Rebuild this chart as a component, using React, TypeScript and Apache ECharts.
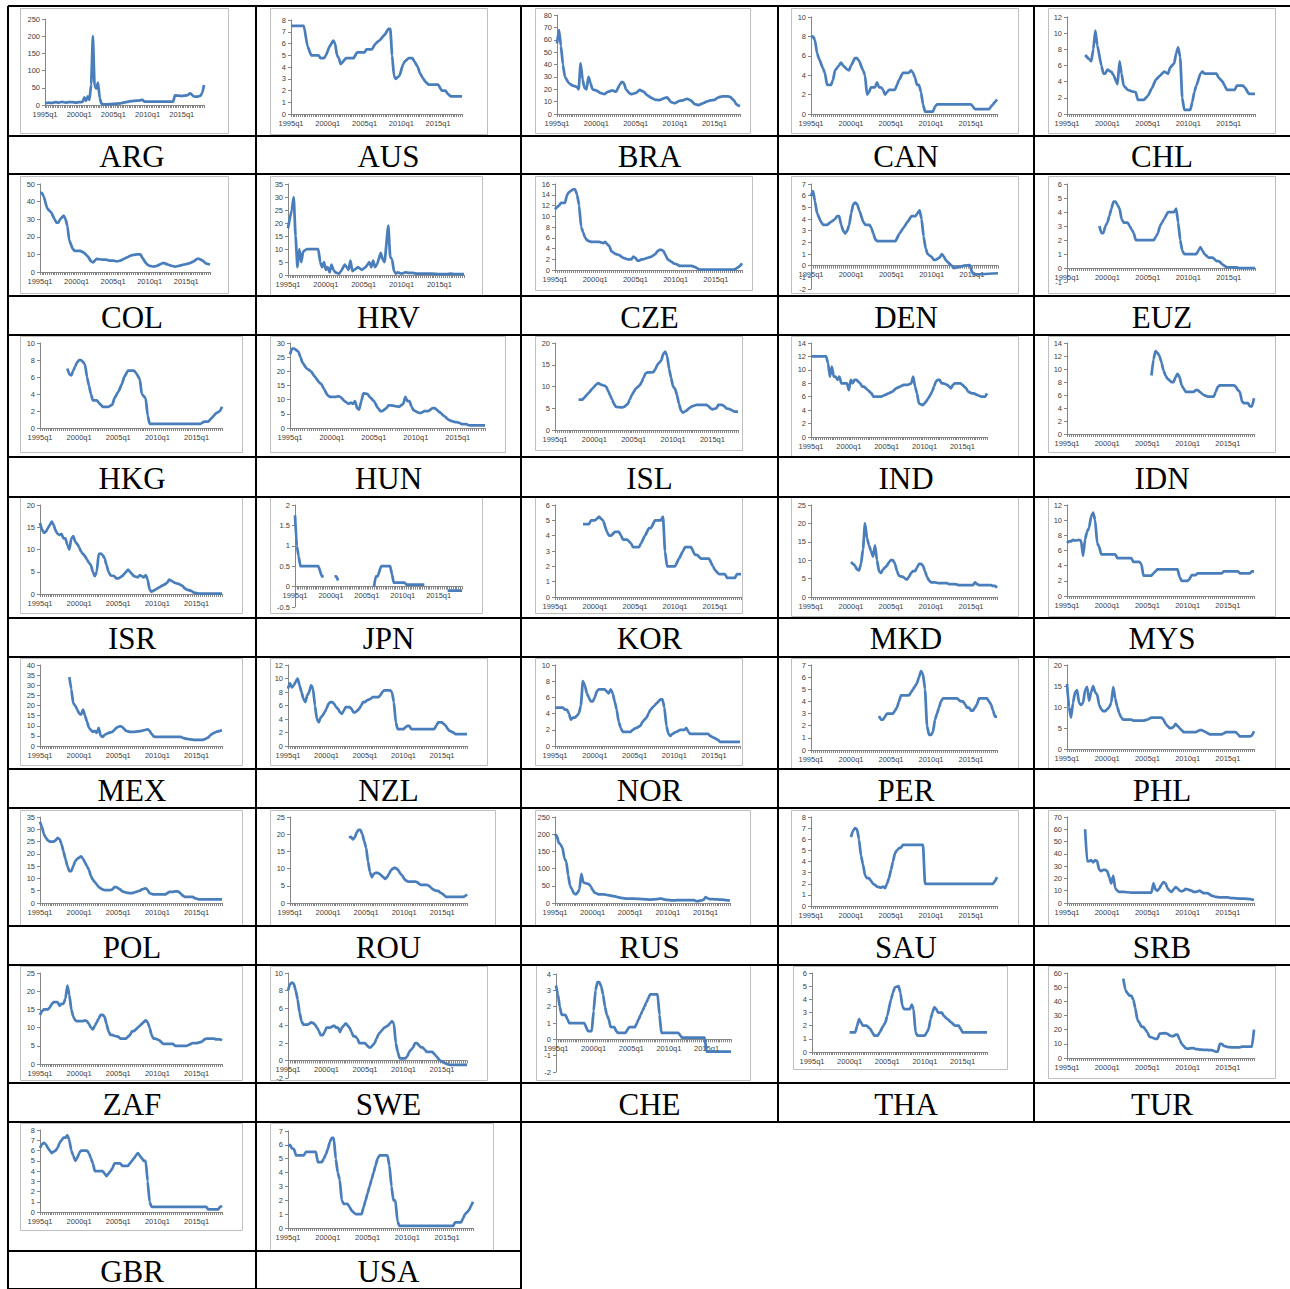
import { useEffect, useRef } from "react";
import * as echarts from "echarts";

// Quarterly category axis: 1995q1 .. 2018q2
const QUARTERS: string[] = [];
for (let y = 1995; y <= 2018; y++) {
  for (let q = 1; q <= 4; q++) {
    if (y === 2018 && q > 2) break;
    QUARTERS.push(`${y}q${q}`);
  }
}

const CODES = [
  "ARG", "AUS", "BRA", "CAN", "CHL",
  "COL", "HRV", "CZE", "DEN", "EUZ",
  "HKG", "HUN", "ISL", "IND", "IDN",
  "ISR", "JPN", "KOR", "MKD", "MYS",
  "MEX", "NZL", "NOR", "PER", "PHL",
  "POL", "ROU", "RUS", "SAU", "SRB",
  "ZAF", "SWE", "CHE", "THA", "TUR",
  "GBR", "USA",
];

// Policy rates, [year + quarter fraction, percent]; null marks a gap in the series
type Pt = [number, number] | null;

const ARG: Pt[] = [[1995,5],[1995.5,7],[1996,6],[1996.5,8],[1997,7],[1997.5,9],[1998,7],[1998.5,8],[1999,8],[1999.5,7],[2000,8],[2000.5,9],[2000.75,22],[2001,12],[2001.25,25],[2001.5,15],[2001.75,60],[2002,200],[2002.25,55],[2002.5,48],[2002.75,65],[2003,20],[2003.25,4],[2003.5,2],[2004,2],[2005,3],[2006,5],[2007,9],[2007.5,11],[2008,12],[2008.75,13],[2009.25,15],[2009.5,10],[2010,10],[2011,10],[2012,10],[2013,10],[2013.75,10],[2014,28],[2015,26],[2015.75,28],[2016.25,34],[2016.75,25],[2017.25,24],[2017.75,27],[2018,35],[2018.25,58]];
const AUS: Pt[] = [[1995,7.5],[1996.75,7.5],[1997.25,5.75],[1997.75,5.0],[1998.75,5.0],[1999,4.75],[1999.5,4.75],[1999.75,5.0],[2000.25,5.75],[2000.75,6.25],[2001,6.0],[2001.25,5.0],[2001.5,4.75],[2001.75,4.25],[2002.5,4.75],[2003.5,4.75],[2004,5.25],[2005,5.25],[2005.25,5.5],[2006,5.5],[2006.5,6.0],[2007,6.25],[2007.75,6.75],[2008.25,7.25],[2008.5,7.25],[2008.75,5.0],[2009,3.25],[2009.25,3.0],[2009.75,3.25],[2010.25,4.25],[2010.5,4.5],[2011,4.75],[2011.5,4.75],[2011.75,4.5],[2012.25,4.0],[2012.5,3.5],[2013,3.0],[2013.25,2.75],[2013.75,2.5],[2015,2.5],[2015.5,2.0],[2016,2.0],[2016.25,1.75],[2016.75,1.5],[2018.25,1.5]];
const BRA: Pt[] = [[1995,57],[1995.25,68],[1995.5,55],[1995.75,40],[1996,30],[1996.5,25],[1997,23],[1997.5,22],[1997.75,20],[1998,41],[1998.25,28],[1998.5,21],[1998.75,20],[1999,30],[1999.25,25],[1999.5,20],[2000,19],[2000.5,17],[2001,16],[2001.5,18],[2002,19],[2002.5,18],[2003,24],[2003.25,26],[2003.5,25],[2003.75,20],[2004.25,16.5],[2004.5,16],[2005,17],[2005.5,19.5],[2006,18],[2006.5,15],[2007,13],[2007.5,11.5],[2008,11.2],[2008.75,13],[2009,13.5],[2009.5,9.5],[2010,8.75],[2010.5,10.5],[2011,11],[2011.5,12.25],[2012,11],[2012.5,8],[2013,7.25],[2013.5,8.5],[2014,10],[2014.5,11],[2015,11.5],[2015.5,13.5],[2016,14.25],[2016.75,14.25],[2017,13.75],[2017.5,11],[2017.75,8],[2018,7],[2018.25,6.5]];
const CAN: Pt[] = [[1995,7.9],[1995.25,8.0],[1995.5,7.6],[1995.75,6.3],[1996,5.7],[1996.5,4.7],[1996.75,4.2],[1997,3.0],[1997.5,3.0],[1997.75,3.5],[1998,4.5],[1998.5,5.0],[1998.75,5.3],[1999,5.0],[1999.5,4.6],[1999.75,4.5],[2000,5.0],[2000.5,5.75],[2000.75,5.75],[2001,5.5],[2001.5,4.5],[2001.75,4.0],[2002,2.0],[2002.25,2.25],[2002.5,2.75],[2003,2.75],[2003.25,3.25],[2003.5,2.75],[2003.75,2.75],[2004,2.5],[2004.25,2.0],[2004.5,2.25],[2004.75,2.5],[2005.5,2.5],[2005.75,3.0],[2006,3.5],[2006.5,4.25],[2007.25,4.25],[2007.5,4.5],[2007.75,4.25],[2008,3.75],[2008.25,3.0],[2008.5,3.0],[2008.75,2.25],[2009,1.0],[2009.25,0.25],[2010.25,0.25],[2010.5,0.75],[2010.75,1.0],[2015,1.0],[2015.25,0.75],[2015.5,0.5],[2017.25,0.5],[2017.5,0.75],[2017.75,1.0],[2018,1.25],[2018.25,1.5]];
const CHL: Pt[] = [[1997.25,7.3],[1997.75,6.8],[1998,6.5],[1998.25,8.0],[1998.5,10.3],[1998.75,8.5],[1999.25,6.0],[1999.5,5.0],[1999.75,5.0],[2000,5.5],[2000.5,5.2],[2000.75,4.8],[2001.25,3.7],[2001.5,6.5],[2001.75,5.0],[2002,3.5],[2002.5,3.0],[2003,2.8],[2003.5,2.7],[2003.75,1.75],[2004.5,1.75],[2005,2.25],[2005.5,3.2],[2006,4.25],[2006.5,4.75],[2007,5.25],[2007.5,5.0],[2007.75,5.75],[2008.25,6.25],[2008.5,7.5],[2008.75,8.25],[2009,7.0],[2009.25,2.0],[2009.5,0.5],[2010.25,0.5],[2010.5,1.5],[2010.75,2.75],[2011,3.5],[2011.5,5.0],[2011.75,5.25],[2012,5.0],[2013.5,5.0],[2013.75,4.5],[2014.25,4.0],[2014.5,3.5],[2014.75,3.0],[2015.75,3.0],[2016,3.5],[2016.75,3.5],[2017,3.25],[2017.5,2.5],[2018.25,2.5]];

const COL: Pt[] = [[1995,45],[1995.25,45],[1995.5,43],[1996,36],[1996.5,34],[1997,30],[1997.25,28],[1997.5,28],[1997.75,30],[1998.25,32],[1998.5,30],[1998.75,26],[1999,18],[1999.5,13],[1999.75,12],[2000.5,12],[2001,11],[2001.5,9],[2002,6],[2002.25,5.5],[2002.75,7.5],[2003.5,7],[2004,7],[2004.5,6.5],[2005,6.5],[2005.5,6],[2006,6.5],[2006.5,7.5],[2007,8.5],[2007.5,9.5],[2008.25,10],[2008.75,10],[2009,8],[2009.5,5],[2009.75,4],[2010,3.5],[2010.5,3],[2011,3.5],[2011.5,4.5],[2011.75,5],[2012,5],[2012.5,4.25],[2013,3.5],[2013.5,3],[2014,3.5],[2014.5,4],[2015,4.5],[2015.5,5],[2016,6],[2016.5,7.5],[2016.75,7.5],[2017.25,6.5],[2017.5,5.5],[2017.75,4.75],[2018.25,4.25]];
const HRV: Pt[] = [[1995,18],[1995.5,25],[1995.75,30],[1996,15],[1996.25,3],[1996.5,10],[1996.75,5],[1997,9],[1997.5,10],[1998,10],[1999,10],[1999.25,5],[1999.5,3],[1999.75,5],[2000,2],[2000.25,3],[2000.5,1],[2000.75,4],[2001,2],[2001.25,1],[2001.75,0.5],[2002,1.5],[2002.5,4],[2002.75,3],[2003,2],[2003.25,5.5],[2003.5,1.5],[2003.75,2],[2004.25,3],[2004.75,2],[2005.25,3],[2005.75,5],[2006,3],[2006.25,5.5],[2006.5,3],[2006.75,4],[2007.25,8.5],[2007.5,6],[2007.75,5],[2008.25,19],[2008.5,7],[2008.75,6],[2009,1.5],[2009.25,0.5],[2009.5,1],[2010,0.5],[2010.5,1],[2011,0.8],[2011.5,0.8],[2012,0.5],[2014,0.5],[2015,0.3],[2016,0.3],[2016.5,0.5],[2017,0.3],[2018.25,0.3]];
const CZE: Pt[] = [[1995,11.3],[1995.5,12],[1995.75,12.5],[1996.25,12.5],[1996.5,14],[1996.75,14.5],[1997.25,15],[1997.5,15],[1997.75,14],[1998,12],[1998.25,8],[1998.5,7],[1998.75,6],[1999,5.5],[1999.5,5.25],[2000.5,5.25],[2001,5],[2001.25,5.25],[2001.5,4.75],[2001.75,4.5],[2002,3.5],[2002.5,3],[2003,2.75],[2003.25,2.5],[2003.5,2.25],[2004,2.0],[2004.5,2.0],[2004.75,2.5],[2005,2.25],[2005.25,1.75],[2005.5,1.75],[2005.75,2],[2006,2.0],[2006.5,2.25],[2007,2.5],[2007.5,3],[2007.75,3.5],[2008,3.75],[2008.25,3.75],[2008.5,3.5],[2008.75,2.75],[2009,2.0],[2009.25,1.75],[2009.5,1.5],[2009.75,1.25],[2010.25,1.0],[2010.5,0.75],[2012,0.75],[2012.5,0.5],[2012.75,0.25],[2013,0.05],[2017.25,0.05],[2017.5,0.25],[2017.75,0.5],[2018,0.75],[2018.25,1.25]];
const DEN: Pt[] = [[1995,6],[1995.25,6.4],[1995.5,5.5],[1995.75,4.5],[1996.25,3.75],[1996.5,3.5],[1997,3.5],[1997.5,3.75],[1998,4],[1998.25,4.25],[1998.5,4.25],[1998.75,3.5],[1999,3],[1999.25,2.75],[1999.5,3],[1999.75,3.5],[2000,4.5],[2000.25,5.25],[2000.5,5.4],[2000.75,5.25],[2001,4.75],[2001.5,3.75],[2001.75,3.5],[2002.25,3.5],[2002.5,3.25],[2002.75,2.75],[2003,2.25],[2003.25,2.1],[2005.5,2.1],[2006,2.75],[2006.5,3.25],[2007,3.75],[2007.5,4.25],[2008,4.25],[2008.25,4.5],[2008.5,4.75],[2008.75,4.0],[2009,2.5],[2009.25,1.5],[2009.5,1.0],[2010,0.75],[2010.25,0.5],[2010.5,0.5],[2011,0.7],[2011.25,1.0],[2011.5,0.8],[2011.75,0.5],[2012,0.3],[2012.5,0.0],[2012.75,-0.2],[2013.5,-0.1],[2014,0.0],[2014.75,0.05],[2015,-0.5],[2015.25,-0.75],[2018.25,-0.65]];
const EUZ: Pt[] = [[1999,3.0],[1999.25,2.5],[1999.5,2.5],[1999.75,3.0],[2000,3.25],[2000.25,3.75],[2000.5,4.25],[2000.75,4.75],[2001,4.75],[2001.25,4.5],[2001.5,4.25],[2001.75,3.5],[2002,3.25],[2002.5,3.25],[2002.75,3.0],[2003,2.75],[2003.25,2.5],[2003.5,2.0],[2005.75,2.0],[2006,2.25],[2006.25,2.5],[2006.5,3.0],[2006.75,3.25],[2007,3.5],[2007.5,4.0],[2008.25,4.0],[2008.5,4.25],[2008.75,3.25],[2009,2.0],[2009.25,1.25],[2009.5,1.0],[2011,1.0],[2011.25,1.25],[2011.5,1.5],[2011.75,1.25],[2012,1.0],[2012.5,0.75],[2013,0.75],[2013.5,0.5],[2013.75,0.5],[2014.25,0.25],[2014.5,0.15],[2014.75,0.05],[2016,0.05],[2016.25,0.0],[2018.25,0.0]];

const HKG: Pt[] = [[1998.5,7.0],[1998.75,6.3],[1999,6.2],[1999.25,6.75],[1999.5,7.25],[1999.75,7.75],[2000,8.0],[2000.25,8.0],[2000.75,7.5],[2001,6.0],[2001.25,5.0],[2001.5,4.0],[2001.75,3.25],[2002.25,3.25],[2002.5,3.0],[2002.75,2.75],[2003,2.5],[2003.75,2.5],[2004.25,2.75],[2004.5,3.5],[2005,4.25],[2005.5,5.25],[2005.75,6.0],[2006.25,6.75],[2007,6.75],[2007.25,6.5],[2007.75,5.75],[2008,4.0],[2008.5,3.5],[2008.75,1.5],[2009,0.5],[2015.5,0.5],[2016,0.75],[2016.5,0.75],[2017,1.25],[2017.25,1.5],[2017.5,1.75],[2018,2.0],[2018.25,2.5]];
const HUN: Pt[] = [[1995,26],[1995.25,28],[1995.5,28],[1996,27],[1996.25,25],[1996.5,23],[1997,21],[1997.5,20],[1998,18],[1998.5,16],[1998.75,15.5],[1999,14],[1999.5,11.5],[1999.75,11],[2000.5,11],[2000.75,11.25],[2001,11],[2001.5,9.5],[2001.75,9],[2002,8.5],[2002.25,9],[2002.5,8.5],[2002.75,9.5],[2003,7],[2003.25,6.5],[2003.5,9.5],[2003.75,12.25],[2004.25,12],[2004.5,11],[2005,9.5],[2005.5,7],[2005.75,6],[2006,6],[2006.5,7],[2006.75,8],[2007,8],[2007.5,7.75],[2008,7.5],[2008.5,8.5],[2008.75,11],[2009,9.5],[2009.25,9.5],[2009.5,7.5],[2009.75,6.25],[2010.25,5.5],[2010.5,5.25],[2010.75,5.5],[2011,6],[2011.5,6],[2012,7],[2012.25,7],[2012.5,6.5],[2012.75,5.75],[2013,5.25],[2013.25,4.5],[2013.5,4],[2013.75,3.25],[2014,2.75],[2014.5,2.25],[2014.75,2.1],[2015,2.0],[2015.25,1.75],[2015.5,1.35],[2016,1.35],[2016.25,1.05],[2016.5,0.9],[2018.25,0.9]];
const ISL: Pt[] = [[1998,7.0],[1998.5,7.0],[1998.75,7.5],[1999,8],[1999.25,8.5],[1999.75,9.5],[2000.25,10.5],[2000.5,10.8],[2000.75,10.5],[2001.25,10.2],[2001.5,10],[2001.75,9],[2002,8],[2002.25,7],[2002.5,6],[2002.75,5.3],[2003.5,5.2],[2003.75,5.3],[2004.25,6.0],[2004.5,7.0],[2004.75,8],[2005,8.75],[2005.25,9.5],[2005.75,10.25],[2006,11],[2006.25,12],[2006.5,13],[2006.75,13.25],[2007.5,13.3],[2007.75,14],[2008,15],[2008.25,15.5],[2008.5,16],[2008.75,17.5],[2009,18],[2009.25,17],[2009.5,14],[2009.75,12],[2010,10],[2010.25,9.5],[2010.5,8],[2010.75,6],[2011,4.5],[2011.25,4.0],[2011.5,4.25],[2011.75,4.5],[2012,5],[2012.5,5.5],[2013,5.75],[2014.25,5.75],[2014.5,5.5],[2014.75,5.0],[2015,4.75],[2015.5,5.0],[2015.75,5.75],[2016.25,5.75],[2016.5,5.5],[2016.75,5.0],[2017.25,4.75],[2017.5,4.5],[2017.75,4.25],[2018.25,4.25]];
const IND: Pt[] = [[1995,12],[1997,12],[1997.25,11],[1997.5,9],[1997.75,10.5],[1998,9],[1998.25,9],[1998.5,8.5],[1998.75,9],[1999,8],[1999.75,8],[2000,7],[2000.25,8.5],[2000.5,8],[2000.75,8.5],[2001,8.5],[2001.5,8],[2001.75,7.5],[2002,7.5],[2002.5,7],[2003,6.5],[2003.25,6],[2004.25,6],[2004.75,6.25],[2005.25,6.5],[2005.75,6.75],[2006.25,7.25],[2006.75,7.5],[2007.25,7.75],[2007.75,7.75],[2008.25,8],[2008.5,9],[2008.75,7.5],[2009,6.5],[2009.25,5],[2009.75,4.75],[2010,5],[2010.5,5.75],[2010.75,6.25],[2011,6.75],[2011.25,7.5],[2011.5,8.25],[2011.75,8.5],[2012,8.5],[2012.25,8],[2012.5,8],[2013,7.75],[2013.25,7.5],[2013.5,7.25],[2013.75,7.75],[2014,8],[2014.75,8],[2015,7.75],[2015.25,7.5],[2015.5,7.25],[2015.75,6.75],[2016.25,6.5],[2016.5,6.5],[2017,6.25],[2017.5,6.0],[2018,6.0],[2018.25,6.5]];
const IDN: Pt[] = [[2005.5,9],[2005.75,11.5],[2006,12.75],[2006.25,12.5],[2006.5,12],[2006.75,11],[2007,9.75],[2007.25,9],[2007.5,8.5],[2007.75,8.25],[2008,8],[2008.25,8],[2008.5,8.75],[2008.75,9.25],[2009,8.75],[2009.25,7.5],[2009.5,7],[2009.75,6.5],[2010.75,6.5],[2011,6.75],[2011.25,6.75],[2011.5,6.5],[2012,6],[2012.5,5.75],[2013.25,5.75],[2013.5,6.5],[2013.75,7.25],[2014,7.5],[2015.75,7.5],[2016,7.25],[2016.25,6.75],[2016.5,6.5],[2016.75,5.0],[2017,4.75],[2017.5,4.75],[2017.75,4.25],[2018,4.25],[2018.25,5.5]];

const ISR: Pt[] = [[1995,16],[1995.25,14.5],[1995.5,13.75],[1995.75,14],[1996,14.75],[1996.25,15.5],[1996.5,16.25],[1996.75,15.5],[1997,14.25],[1997.25,13.5],[1997.5,13.25],[1997.75,13.5],[1998,12.5],[1998.25,12.5],[1998.5,11],[1998.75,10],[1999,12.5],[1999.25,13],[1999.5,11.75],[1999.75,11.25],[2000,10.5],[2000.25,9.5],[2000.5,9],[2000.75,8.5],[2001,7.75],[2001.25,7],[2001.5,6.5],[2001.75,5],[2002,4],[2002.25,5],[2002.5,9],[2002.75,9.1],[2003,8.75],[2003.25,8],[2003.5,6.5],[2003.75,5],[2004,4.2],[2004.5,4.0],[2004.75,3.5],[2005,3.5],[2005.5,4.0],[2005.75,4.5],[2006,5.0],[2006.25,5.5],[2006.5,5.0],[2006.75,4.5],[2007,4.0],[2007.5,3.75],[2007.75,4.25],[2008,4.0],[2008.25,3.75],[2008.5,4.25],[2008.75,3.25],[2009,1.0],[2009.25,0.5],[2009.5,0.75],[2009.75,1.0],[2010.25,1.5],[2010.75,2.0],[2011.25,2.5],[2011.5,3.25],[2011.75,3.0],[2012,2.75],[2012.25,2.5],[2012.75,2.25],[2013,2.0],[2013.25,1.75],[2013.5,1.25],[2013.75,1.0],[2014.25,0.75],[2014.5,0.5],[2014.75,0.25],[2015.25,0.1],[2018.25,0.1]];
const JPN: Pt[] = [[1995,1.75],[1995.25,1.0],[1995.5,0.75],[1995.75,0.5],[1998.25,0.5],[1998.75,0.25],[1999,0.25],null,[2000.5,0.25],[2000.75,0.25],[2001,0.15],null,[2006,0.0],[2006.25,0.25],[2006.5,0.25],[2007,0.5],[2008.25,0.5],[2008.5,0.3],[2008.75,0.1],[2010.25,0.1],[2010.5,0.05],[2013,0.05],null,[2016.25,-0.1],[2018.25,-0.1]];
const KOR: Pt[] = [[1998.5,4.75],[1999,4.75],[1999.25,4.75],[1999.5,5.0],[2000,5.0],[2000.25,5.1],[2000.5,5.25],[2000.75,5.1],[2001,5.0],[2001.5,4.25],[2001.75,4.0],[2002,4.0],[2002.5,4.25],[2003,4.25],[2003.25,4.0],[2003.5,3.75],[2004,3.75],[2004.5,3.5],[2004.75,3.25],[2005.5,3.25],[2005.75,3.5],[2006.25,4.0],[2006.75,4.5],[2007,4.5],[2007.5,5.0],[2008.25,5.0],[2008.5,5.25],[2008.75,3.0],[2009,2.0],[2010,2.0],[2010.5,2.5],[2011,3.0],[2011.25,3.25],[2012,3.25],[2012.5,2.75],[2012.75,2.75],[2013.25,2.5],[2014.25,2.5],[2014.75,2.0],[2015,1.75],[2015.5,1.5],[2016.25,1.5],[2016.5,1.25],[2017.5,1.25],[2017.75,1.5],[2018.25,1.5]];
const MKD: Pt[] = [[2000,9.5],[2000.25,9],[2000.5,8.5],[2000.75,7.5],[2001,7.2],[2001.25,9],[2001.5,13],[2001.75,20],[2002,16],[2002.25,14],[2002.5,12.5],[2002.75,11],[2003,14],[2003.25,10],[2003.5,7],[2003.75,6.5],[2004,7.5],[2004.25,8],[2004.5,8.5],[2004.75,9.5],[2005,10],[2005.25,10],[2005.5,9],[2005.75,7],[2006,5.75],[2006.5,5.5],[2006.75,5],[2007,4.75],[2007.25,5.5],[2007.5,6.5],[2007.75,7],[2008,7],[2008.25,8],[2008.5,9],[2008.75,9],[2009,8.5],[2009.25,7],[2009.5,5.5],[2009.75,4.5],[2010,4.0],[2010.5,4.0],[2011,3.75],[2012,3.75],[2012.25,3.5],[2013,3.5],[2013.5,3.25],[2015.25,3.25],[2015.5,4.0],[2015.75,3.5],[2016,3.25],[2017.5,3.25],[2017.75,3.0],[2018,3.0],[2018.25,2.5]];
const MYS: Pt[] = [[1995,7.0],[1995.25,7.2],[1995.5,7.2],[1995.75,7.4],[1996,7.3],[1996.5,7.4],[1996.75,7.3],[1997,5.3],[1997.25,7.5],[1997.5,8.5],[1997.75,9.0],[1998,10.5],[1998.25,11.0],[1998.5,10.0],[1998.75,7.0],[1999,6.5],[1999.25,5.5],[2001,5.5],[2001.25,5.0],[2003,5.0],[2003.25,4.5],[2004,4.5],[2004.25,4.2],[2004.5,2.7],[2005.5,2.7],[2005.75,3.0],[2006,3.25],[2006.25,3.5],[2008.75,3.5],[2009,2.5],[2009.25,2.0],[2010,2.0],[2010.25,2.25],[2010.5,2.75],[2011,2.75],[2011.25,3.0],[2014.25,3.0],[2014.5,3.25],[2016.25,3.25],[2016.5,3.0],[2017.75,3.0],[2018,3.25],[2018.25,3.25]];

const MEX: Pt[] = [[1998.75,34],[1999,28],[1999.25,21],[1999.5,20],[1999.75,18],[2000,16],[2000.25,15.5],[2000.5,18],[2000.75,15],[2001,12],[2001.25,9],[2001.5,8],[2001.75,7],[2002,7.5],[2002.25,6.5],[2002.5,9],[2002.75,5],[2003,4.5],[2003.25,5.5],[2003.5,6],[2003.75,6.5],[2004.25,7],[2004.5,8],[2004.75,9],[2005,9.5],[2005.25,9.75],[2005.5,9.5],[2005.75,8.5],[2006,7.5],[2006.5,7.0],[2007,7.0],[2007.5,7.25],[2008,7.5],[2008.5,8.0],[2008.75,8.25],[2009,7.5],[2009.25,6.0],[2009.5,4.75],[2009.75,4.5],[2013,4.5],[2013.25,4.0],[2013.75,3.5],[2014.25,3.25],[2014.75,3.0],[2015.75,3.0],[2016,3.25],[2016.25,3.75],[2016.5,4.25],[2016.75,5.25],[2017,6.0],[2017.25,6.5],[2017.5,7.0],[2017.75,7.25],[2018,7.5],[2018.25,7.75]];
const NZL: Pt[] = [[1995,8.5],[1995.25,9.3],[1995.5,8.7],[1995.75,9.0],[1996,9.5],[1996.25,10.0],[1996.5,9.0],[1996.75,8.0],[1997,7.0],[1997.25,6.5],[1997.5,7.5],[1997.75,8.0],[1998,9.0],[1998.25,8.5],[1998.5,6.0],[1998.75,4.0],[1999,3.5],[1999.25,4.25],[1999.5,4.5],[1999.75,5.0],[2000,5.5],[2000.25,6.25],[2000.5,6.5],[2000.75,6.5],[2001,6.25],[2001.25,5.75],[2001.5,5.5],[2001.75,5.0],[2002,4.75],[2002.25,5.25],[2002.5,5.75],[2003,5.75],[2003.25,5.5],[2003.5,5.0],[2003.75,5.0],[2004,5.25],[2004.25,5.5],[2004.5,6.0],[2004.75,6.5],[2005,6.5],[2005.25,6.75],[2005.75,7.0],[2006,7.25],[2006.75,7.25],[2007,7.5],[2007.25,8.0],[2007.5,8.25],[2008.25,8.25],[2008.5,8.0],[2008.75,6.5],[2009,3.5],[2009.25,2.5],[2010,2.5],[2010.25,2.75],[2010.5,3.0],[2010.75,3.0],[2011,2.5],[2014,2.5],[2014.25,3.0],[2014.5,3.5],[2015,3.5],[2015.25,3.25],[2015.5,3.0],[2015.75,2.5],[2016,2.25],[2016.5,2.0],[2016.75,1.75],[2018.25,1.75]];
const NOR: Pt[] = [[1995,4.75],[1996,4.75],[1996.25,4.5],[1996.5,4.5],[1996.75,4.0],[1997,3.25],[1997.25,3.5],[1997.5,3.5],[1997.75,3.75],[1998,4.0],[1998.25,5.0],[1998.5,8.0],[1998.75,7.5],[1999,6.5],[1999.25,6.0],[1999.5,5.5],[1999.75,5.5],[2000,6.0],[2000.25,6.75],[2000.5,7.0],[2001.25,7.0],[2001.5,6.75],[2001.75,6.5],[2002,7.0],[2002.25,6.5],[2002.5,5.5],[2002.75,4.5],[2003,3.0],[2003.25,2.25],[2003.5,1.75],[2004.5,1.75],[2004.75,2.0],[2005.25,2.25],[2005.75,2.5],[2006,3.0],[2006.5,3.5],[2006.75,4.0],[2007,4.5],[2007.5,5.0],[2007.75,5.25],[2008.25,5.75],[2008.5,5.75],[2008.75,4.75],[2009,2.5],[2009.25,1.5],[2009.5,1.25],[2009.75,1.5],[2010.25,1.75],[2010.75,2.0],[2011.25,2.0],[2011.5,2.25],[2011.75,1.75],[2012,1.5],[2014.25,1.5],[2014.5,1.25],[2015,1.0],[2015.5,0.75],[2015.75,0.5],[2018.25,0.5]];
const PER: Pt[] = [[2003.5,2.8],[2003.75,2.5],[2004,2.5],[2004.25,2.75],[2004.5,3.0],[2005.25,3.0],[2005.5,3.25],[2005.75,3.5],[2006,4.0],[2006.25,4.5],[2007.25,4.5],[2007.5,4.75],[2007.75,5.0],[2008,5.25],[2008.25,5.5],[2008.5,6.0],[2008.75,6.5],[2009,6.25],[2009.25,5.0],[2009.5,2.0],[2009.75,1.25],[2010,1.25],[2010.25,1.5],[2010.5,2.5],[2010.75,3.0],[2011,3.5],[2011.25,4.0],[2011.5,4.25],[2013.25,4.25],[2013.75,4.0],[2014,4.0],[2014.25,3.75],[2014.5,3.5],[2014.75,3.5],[2015,3.25],[2015.25,3.25],[2015.5,3.5],[2015.75,3.75],[2016,4.25],[2017,4.25],[2017.25,4.0],[2017.5,3.75],[2017.75,3.25],[2018,2.75],[2018.25,2.75]];
const PHL: Pt[] = [[1995,15.5],[1995.25,10],[1995.5,7.5],[1995.75,11],[1996,13.5],[1996.25,14],[1996.5,11],[1996.75,10.5],[1997,11],[1997.25,14],[1997.5,14.8],[1997.75,11.5],[1998,13.5],[1998.25,15],[1998.5,13.5],[1998.75,13],[1999,10.5],[1999.25,9.5],[1999.5,9],[1999.75,9],[2000,9.5],[2000.25,10],[2000.5,11],[2000.75,14.75],[2001,12],[2001.25,10],[2001.5,8.5],[2001.75,7.5],[2002,7.0],[2003,7.0],[2003.25,6.75],[2004.5,6.75],[2005,7.0],[2005.25,7.25],[2005.5,7.5],[2006.75,7.5],[2007,7.0],[2007.25,6.0],[2007.5,5.5],[2007.75,5.0],[2008,5.0],[2008.25,5.25],[2008.5,6.0],[2008.75,5.5],[2009,5.0],[2009.25,4.5],[2009.5,4.0],[2011,4.0],[2011.25,4.25],[2011.5,4.5],[2011.75,4.5],[2012,4.25],[2012.25,4.0],[2012.5,3.75],[2012.75,3.5],[2014.25,3.5],[2014.5,3.75],[2014.75,4.0],[2016,4.0],[2016.25,3.5],[2016.5,3.0],[2017.75,3.0],[2018,3.25],[2018.25,4.25]];

const POL: Pt[] = [[1995,33],[1995.25,31],[1995.5,28],[1995.75,26.5],[1996,25.5],[1996.25,25],[1996.75,25],[1997,25.5],[1997.25,26.5],[1997.5,26],[1997.75,24],[1998,21],[1998.25,18],[1998.5,15],[1998.75,13],[1999,13],[1999.25,15],[1999.5,17],[1999.75,18],[2000,18.5],[2000.25,19],[2000.5,18],[2000.75,16.5],[2001,15],[2001.25,13.5],[2001.5,11],[2001.75,9.5],[2002,8.5],[2002.25,7.5],[2002.5,6.5],[2002.75,6],[2003,5.5],[2003.25,5.25],[2004,5.25],[2004.25,5.5],[2004.5,6.5],[2004.75,6.5],[2005,6.0],[2005.25,5.5],[2005.5,4.75],[2005.75,4.5],[2006,4.25],[2006.5,4.0],[2006.75,4.0],[2007,4.25],[2007.25,4.5],[2007.5,4.75],[2007.75,5.0],[2008,5.5],[2008.25,5.75],[2008.5,6.0],[2008.75,5.25],[2009,4.0],[2009.25,3.75],[2009.5,3.5],[2011,3.5],[2011.25,4.0],[2011.5,4.5],[2012,4.5],[2012.25,4.75],[2012.5,4.75],[2012.75,4.5],[2013,3.75],[2013.25,3.0],[2013.5,2.5],[2014.5,2.5],[2014.75,2.0],[2015,1.75],[2015.25,1.5],[2018.25,1.5]];
const ROU: Pt[] = [[2002.75,19],[2003,19.25],[2003.25,18.5],[2003.5,19.0],[2003.75,20.5],[2004,21.25],[2004.25,21.25],[2004.5,20.0],[2004.75,18.0],[2005,16.0],[2005.25,12],[2005.5,9],[2005.75,7.5],[2006,8.5],[2006.25,8.75],[2006.5,8.75],[2006.75,8.5],[2007,8.0],[2007.25,7.5],[2007.5,7.0],[2007.75,7.5],[2008,8.5],[2008.25,9.5],[2008.5,10.0],[2008.75,10.25],[2009,10.0],[2009.25,9.5],[2009.5,8.5],[2009.75,8.0],[2010,7.0],[2010.25,6.5],[2010.5,6.25],[2011.5,6.25],[2011.75,6.0],[2012,5.5],[2012.25,5.25],[2013,5.25],[2013.25,5.0],[2013.5,4.5],[2013.75,4.0],[2014,3.75],[2014.25,3.5],[2014.5,3.5],[2014.75,3.0],[2015,2.75],[2015.25,2.25],[2015.5,1.75],[2017.75,1.75],[2018,2.0],[2018.25,2.5]];
const RUS: Pt[] = [[1995,200],[1995.25,195],[1995.5,175],[1995.75,170],[1996,160],[1996.25,130],[1996.5,120],[1996.75,80],[1997,50],[1997.25,40],[1997.5,28],[1997.75,25],[1998,30],[1998.25,40],[1998.5,85],[1998.75,60],[1999,58],[1999.5,55],[1999.75,48],[2000,38],[2000.25,30],[2000.5,28],[2000.75,25],[2001.5,25],[2002,23],[2002.5,21],[2003,19],[2003.5,16],[2004,14],[2004.5,13],[2005,13],[2006,12],[2006.5,11.5],[2007,10.5],[2007.5,10],[2008,10.25],[2008.5,11],[2008.75,12],[2009,13],[2009.25,12],[2009.5,10.5],[2009.75,9],[2010,8.75],[2010.5,7.75],[2011,7.75],[2011.5,8.25],[2012,8],[2013.5,8.25],[2013.75,5.5],[2014,5.5],[2014.25,7.0],[2014.5,7.5],[2014.75,9.5],[2015,17],[2015.25,14],[2015.5,11.5],[2015.75,11],[2016,11],[2016.5,10.5],[2016.75,10],[2017,10],[2017.25,9.75],[2017.5,9.0],[2017.75,8.25],[2018,7.75],[2018.25,7.25]];
const SAU: Pt[] = [[2000,6.2],[2000.25,6.75],[2000.5,7.0],[2000.75,6.9],[2001,6.0],[2001.25,4.5],[2001.5,3.75],[2001.75,2.75],[2002,2.5],[2002.25,2.5],[2002.5,2.25],[2002.75,2.0],[2003,1.9],[2003.25,1.75],[2003.75,1.65],[2004,1.75],[2004.25,1.6],[2004.5,2.0],[2004.75,2.5],[2005,3.25],[2005.25,4.0],[2005.5,4.75],[2005.75,5.0],[2006,5.2],[2006.25,5.25],[2006.5,5.5],[2009,5.5],[2009.25,2.0],[2017.75,2.0],[2018,2.25],[2018.25,2.6]];
const SRB: Pt[] = [[1997.25,60],[1997.5,34],[1997.75,34],[1998,35],[1998.25,33],[1998.5,35],[1998.75,34],[1999,27],[1999.25,26],[1999.5,27],[1999.75,27],[2000,26],[2000.25,21],[2000.5,16],[2000.75,22],[2001,12],[2001.25,10],[2001.5,9],[2002,9],[2003,8.5],[2005.5,8.5],[2005.75,16],[2006,11],[2006.25,10],[2006.5,12],[2006.75,15],[2007,17],[2007.25,16],[2007.5,12],[2007.75,10],[2008,9],[2008.25,11],[2008.5,13],[2008.75,12],[2009,10],[2009.25,9.5],[2009.5,10],[2009.75,11.5],[2010,11],[2010.5,10],[2010.75,9],[2011,9],[2011.25,9.5],[2011.5,10],[2011.75,9],[2012,8],[2012.5,8],[2012.75,7],[2013,6],[2013.5,5],[2014,4.5],[2015,4.5],[2015.5,4],[2016,3.75],[2017,3.5],[2017.75,3.25],[2018,2.75],[2018.25,2.5]];

const ZAF: Pt[] = [[1995,13.5],[1995.25,14.5],[1995.5,15],[1996,15],[1996.25,15.5],[1996.5,16.5],[1996.75,17],[1997.25,17],[1997.5,16],[1997.75,16.5],[1998,16.5],[1998.25,18],[1998.5,21.5],[1998.75,19],[1999,15],[1999.25,13],[1999.5,12],[1999.75,11.75],[2000.5,11.75],[2000.75,12],[2001,11.75],[2001.25,11],[2001.5,10],[2001.75,9.5],[2002,10.5],[2002.25,11.5],[2002.5,12.5],[2002.75,13.5],[2003,13.5],[2003.25,13],[2003.5,11],[2003.75,9],[2004,8],[2004.25,8],[2004.5,7.75],[2005,7.5],[2005.25,7.0],[2006,7.0],[2006.25,7.5],[2006.5,8.0],[2006.75,9.0],[2007,9.0],[2007.25,9.5],[2007.5,10.0],[2007.75,10.5],[2008,11.0],[2008.25,11.5],[2008.5,12.0],[2008.75,11.5],[2009,10.0],[2009.25,8.0],[2009.5,7.0],[2009.75,7.0],[2010,6.75],[2010.25,6.5],[2010.5,6.0],[2010.75,5.5],[2012,5.5],[2012.25,5.0],[2013.75,5.0],[2014,5.25],[2014.5,5.75],[2015,5.75],[2015.5,6.0],[2015.75,6.25],[2016,6.75],[2016.25,7.0],[2017.25,7.0],[2017.5,6.75],[2018,6.75],[2018.25,6.5]];
const SWE: Pt[] = [[1995,8.0],[1995.25,8.7],[1995.5,8.9],[1995.75,8.8],[1996,8.0],[1996.25,7.0],[1996.5,5.5],[1996.75,4.5],[1997,4.1],[1997.5,4.1],[1997.75,4.2],[1998,4.35],[1998.25,4.3],[1998.5,4.1],[1998.75,3.8],[1999,3.4],[1999.25,2.9],[1999.5,2.9],[1999.75,3.25],[2000,3.75],[2000.5,3.75],[2000.75,3.9],[2001,4.0],[2001.25,3.75],[2001.5,3.75],[2001.75,3.25],[2002,3.75],[2002.25,4.0],[2002.5,4.25],[2002.75,4.0],[2003,3.75],[2003.25,3.25],[2003.5,2.75],[2003.75,2.75],[2004,2.5],[2004.25,2.0],[2005,2.0],[2005.25,1.75],[2005.5,1.5],[2005.75,1.5],[2006,1.75],[2006.25,2.0],[2006.5,2.5],[2006.75,3.0],[2007,3.25],[2007.25,3.5],[2007.5,3.75],[2008,4.0],[2008.25,4.25],[2008.5,4.5],[2008.75,4.25],[2009,2.0],[2009.25,1.0],[2009.5,0.25],[2010.25,0.25],[2010.5,0.5],[2010.75,1.0],[2011,1.25],[2011.25,1.5],[2011.5,2.0],[2011.75,2.0],[2012,1.75],[2012.25,1.5],[2012.5,1.5],[2012.75,1.25],[2013,1.0],[2013.75,1.0],[2014,0.75],[2014.25,0.5],[2014.75,0.0],[2015,-0.1],[2015.25,-0.25],[2015.5,-0.35],[2016,-0.5],[2018.25,-0.5]];
const CHE: Pt[] = [[1995,3.3],[1995.25,2.75],[1995.5,2.0],[1995.75,1.5],[1996.25,1.5],[1996.5,1.25],[1996.75,1.0],[1998.75,1.0],[1999.25,0.5],[1999.75,0.5],[2000,1.75],[2000.25,3.0],[2000.5,3.5],[2000.75,3.5],[2001,3.25],[2001.25,2.75],[2001.5,2.0],[2001.75,1.5],[2002,1.25],[2002.25,0.75],[2002.75,0.75],[2003,0.5],[2003.25,0.4],[2004.25,0.4],[2004.5,0.6],[2004.75,0.75],[2005.5,0.75],[2005.75,1.0],[2006,1.25],[2006.25,1.5],[2006.5,1.75],[2006.75,2.0],[2007,2.25],[2007.25,2.5],[2007.5,2.75],[2008.5,2.75],[2008.75,1.5],[2009,0.4],[2011.25,0.4],[2011.5,0.25],[2011.75,0.1],[2014.75,0.1],[2015,-0.75],[2018.25,-0.75]];
const THA: Pt[] = [[2000,1.5],[2000.75,1.5],[2001,2.0],[2001.25,2.5],[2001.5,2.25],[2001.75,2.0],[2002.25,2.0],[2002.75,1.75],[2003,1.5],[2003.25,1.25],[2003.75,1.25],[2004,1.5],[2004.5,2.0],[2004.75,2.25],[2005,2.75],[2005.5,4.0],[2005.75,4.5],[2006,4.9],[2006.5,5.0],[2006.75,4.5],[2007,3.5],[2007.25,3.25],[2008,3.25],[2008.25,3.6],[2008.5,3.25],[2008.75,1.5],[2009,1.25],[2010,1.25],[2010.25,1.5],[2010.5,1.75],[2010.75,2.5],[2011,3.0],[2011.25,3.4],[2011.5,3.25],[2011.75,3.0],[2012.25,3.0],[2012.5,2.75],[2013,2.5],[2013.5,2.25],[2014,2.0],[2014.5,2.0],[2014.75,1.75],[2015,1.5],[2018.25,1.5]];
const TUR: Pt[] = [[2002,56],[2002.25,48],[2002.5,46],[2002.75,44],[2003,44],[2003.25,41],[2003.5,35],[2003.75,27],[2004,25],[2004.25,22],[2004.5,22],[2004.75,20],[2005,18],[2005.25,15],[2005.5,14.5],[2005.75,14],[2006,13.5],[2006.25,13.5],[2006.5,17.25],[2007.25,17.5],[2007.5,17],[2007.75,16],[2008,15.5],[2008.25,15.5],[2008.5,16.5],[2008.75,16.5],[2009,13],[2009.25,10],[2009.5,8.5],[2009.75,7],[2010,6.5],[2010.5,7],[2010.75,7],[2011,6.25],[2011.25,6.25],[2011.5,6.0],[2012,5.75],[2012.5,5.75],[2012.75,5.5],[2013,5.5],[2013.25,5.0],[2013.5,4.5],[2013.75,4.5],[2014,10],[2014.25,10],[2014.5,8.5],[2014.75,8.25],[2015,7.75],[2015.5,7.5],[2016.5,7.5],[2016.75,8.0],[2018,8.0],[2018.25,20]];

const GBR: Pt[] = [[1995,6.25],[1995.25,6.6],[1995.5,6.75],[1995.75,6.6],[1996,6.25],[1996.25,6.0],[1996.5,5.75],[1996.75,5.9],[1997,6.0],[1997.25,6.25],[1997.5,6.75],[1997.75,7.0],[1998,7.25],[1998.25,7.25],[1998.5,7.5],[1998.75,7.0],[1999,6.0],[1999.25,5.5],[1999.5,5.0],[1999.75,5.25],[2000,5.75],[2000.25,6.0],[2001,6.0],[2001.25,5.75],[2001.5,5.25],[2001.75,4.75],[2002,4.0],[2003,4.0],[2003.25,3.75],[2003.5,3.5],[2003.75,3.75],[2004,4.0],[2004.25,4.25],[2004.5,4.75],[2005.25,4.75],[2005.5,4.5],[2006.25,4.5],[2006.5,4.75],[2006.75,5.0],[2007,5.25],[2007.25,5.5],[2007.5,5.75],[2007.75,5.5],[2008,5.25],[2008.25,5.0],[2008.5,5.0],[2008.75,3.0],[2009,1.0],[2009.25,0.5],[2016.25,0.5],[2016.5,0.25],[2017.75,0.25],[2018,0.5],[2018.25,0.6]];
const USA: Pt[] = [[1995,5.9],[1995.25,6.0],[1995.5,5.75],[1995.75,5.7],[1996,5.25],[1997,5.25],[1997.25,5.5],[1998.5,5.5],[1998.75,4.75],[1999.25,4.75],[1999.5,5.0],[1999.75,5.3],[2000,5.7],[2000.25,6.2],[2000.5,6.5],[2000.75,6.5],[2001,5.0],[2001.25,4.0],[2001.5,3.5],[2001.75,2.0],[2002,1.75],[2002.5,1.75],[2002.75,1.5],[2003,1.25],[2003.5,1.0],[2004.25,1.0],[2004.5,1.5],[2004.75,2.0],[2005,2.5],[2005.25,3.0],[2005.5,3.5],[2005.75,4.0],[2006,4.5],[2006.25,5.0],[2006.5,5.25],[2007.5,5.25],[2007.75,4.5],[2008,3.0],[2008.25,2.0],[2008.5,2.0],[2008.75,0.5],[2009,0.15],[2015.75,0.15],[2016,0.4],[2016.75,0.4],[2017,0.7],[2017.25,1.0],[2017.5,1.15],[2017.75,1.3],[2018,1.6],[2018.25,1.9]];

const SERIES_DATA: Pt[][] = [
  ARG, AUS, BRA, CAN, CHL,
  COL, HRV, CZE, DEN, EUZ,
  HKG, HUN, ISL, IND, IDN,
  ISR, JPN, KOR, MKD, MYS,
  MEX, NZL, NOR, PER, PHL,
  POL, ROU, RUS, SAU, SRB,
  ZAF, SWE, CHE, THA, TUR,
  GBR, USA,
];

// Value-axis range per panel: [min, max, step]
const Y_RANGES: [number, number, number][] = [
  [0, 250, 50], [0, 8, 1], [0, 80, 10], [0, 10, 2], [0, 12, 2],
  [0, 50, 10], [0, 35, 5], [0, 16, 2], [-2, 7, 1], [-1, 6, 1],
  [0, 10, 2], [0, 30, 5], [0, 20, 5], [0, 14, 2], [0, 14, 2],
  [0, 20, 5], [-0.5, 2, 0.5], [0, 6, 1], [0, 25, 5], [0, 12, 2],
  [0, 40, 5], [0, 12, 2], [0, 10, 2], [0, 7, 1], [0, 20, 5],
  [0, 35, 5], [0, 25, 5], [0, 250, 50], [0, 8, 1], [0, 70, 10],
  [0, 25, 5], [-2, 10, 2], [-2, 4, 1], [0, 6, 1], [0, 60, 10],
  [0, 8, 1], [0, 7, 1],
];

// Panel geometry in page pixels: chart frame [l, t, r, b] and plot area [l, t, r, b]
const FRAMES: number[][] = [
  [20, 8, 228, 133], [270, 8, 487, 134], [535, 8, 750, 133], [791, 8, 1018, 133], [1048, 8, 1275, 133],
  [20, 176, 228, 293], [270, 176, 482, 295], [535, 176, 752, 290], [791, 176, 1018, 293], [1048, 176, 1275, 293],
  [20, 336, 242, 452], [270, 336, 505, 452], [535, 336, 742, 450], [791, 336, 1018, 457], [1048, 336, 1275, 452],
  [20, 497, 242, 613], [270, 497, 482, 613], [535, 497, 742, 613], [791, 497, 1018, 616], [1048, 497, 1275, 616],
  [20, 658, 242, 765], [270, 658, 487, 765], [535, 658, 742, 765], [791, 658, 1018, 768], [1048, 658, 1275, 768],
  [20, 810, 242, 925], [270, 810, 495, 925], [535, 810, 750, 925], [791, 810, 1018, 925], [1048, 810, 1275, 925],
  [20, 966, 242, 1080], [270, 966, 487, 1080], [536, 965, 750, 1080], [793, 966, 1007, 1069], [1048, 966, 1275, 1078],
  [20, 1123, 242, 1230], [270, 1123, 493, 1250],
];
const PLOTS: number[][] = [
  [45, 19, 204, 105], [291, 20, 462, 114], [557, 15, 740, 114], [811, 17, 997, 114], [1067, 17, 1255, 114],
  [40, 184, 210, 272], [288, 184, 464, 275], [555, 184, 742, 270], [811, 184, 998, 289], [1067, 184, 1255, 282],
  [40, 343, 222, 428], [290, 343, 485, 428], [555, 343, 738, 430], [811, 343, 987, 437], [1067, 343, 1254, 434],
  [40, 505, 222, 594], [295, 505, 462, 607], [555, 505, 741, 597], [811, 505, 997, 597], [1067, 505, 1254, 596],
  [40, 665, 222, 746], [288, 665, 467, 746], [555, 665, 740, 746], [811, 665, 997, 750], [1067, 665, 1254, 749],
  [40, 817, 222, 903], [290, 817, 467, 903], [555, 817, 730, 903], [811, 817, 997, 906], [1067, 817, 1254, 903],
  [40, 973, 222, 1064], [288, 973, 467, 1078], [556, 974, 731, 1072], [812, 973, 987, 1052], [1067, 973, 1254, 1058],
  [40, 1130, 222, 1212], [288, 1131, 473, 1228],
];

// Table rules
const COL_X = [8, 256, 521, 778, 1034];
const ROW_Y = [6, 136, 174, 296, 335, 457, 497, 618, 657, 769, 808, 926, 965, 1083, 1122, 1251, 1289];
const LABEL_Y = [156, 317, 478, 638, 790, 947, 1104, 1271];

const LINE_COLOR = "#4A7EBB";
const AXIS_COLOR = "#868686";
const TICK_TEXT = "#404040";

function toIndex(t: number): number {
  return Math.round((t - 1995) * 4);
}

function segments(points: Pt[]): [number, number][][] {
  const out: [number, number][][] = [];
  let cur: [number, number][] = [];
  for (const p of points) {
    if (p === null) {
      if (cur.length) out.push(cur);
      cur = [];
    } else {
      cur.push([toIndex(p[0]), p[1]]);
    }
  }
  if (cur.length) out.push(cur);
  return out;
}

function buildOption() {
  const grid: any[] = [];
  const xAxis: any[] = [];
  const yAxis: any[] = [];
  const series: any[] = [];
  const graphic: any[] = [];

  CODES.forEach((code, i) => {
    const [fl, ft, fr, fb] = FRAMES[i];
    graphic.push({
      type: "rect",
      shape: { x: fl + 0.5, y: ft + 0.5, width: fr - fl, height: fb - ft },
      style: { fill: "none", stroke: "#BFBFBF", lineWidth: 1 },
      silent: true,
    });

    const [l, t, r, b] = PLOTS[i];
    grid.push({ left: l, top: t, width: r - l, height: b - t, containLabel: false });
    const [min, max, step] = Y_RANGES[i];
    // The category axis crosses the value axis at zero; shift it up when the range dips below zero
    const zeroOffset = min < 0 ? -((0 - min) / (max - min)) * (b - t) : 0;
    xAxis.push({
      gridIndex: i,
      type: "category",
      position: "bottom",
      offset: zeroOffset,
      data: QUARTERS,
      boundaryGap: false,
      axisLine: { show: true, onZero: false, lineStyle: { color: AXIS_COLOR, width: 1 } },
      axisTick: { show: true, interval: 0, length: 3, lineStyle: { color: AXIS_COLOR, width: 1 } },
      axisLabel: {
        interval: (idx: number) => idx % 20 === 0,
        hideOverlap: false,
        fontSize: 7.5,
        color: TICK_TEXT,
        margin: 5,
        fontFamily: "Liberation Sans",
      },
      splitLine: { show: false },
    });
    yAxis.push({
      gridIndex: i,
      type: "value",
      min,
      max,
      interval: step,
      axisLine: { show: true, lineStyle: { color: AXIS_COLOR, width: 1 } },
      axisTick: { show: true, length: 3, lineStyle: { color: AXIS_COLOR, width: 1 } },
      axisLabel: { fontSize: 7.5, color: TICK_TEXT, margin: 5, fontFamily: "Liberation Sans" },
      splitLine: { show: false },
    });
    segments(SERIES_DATA[i]).forEach((seg, k) => {
      series.push({
        name: `${code}-${k}`,
        type: "line",
        xAxisIndex: i,
        yAxisIndex: i,
        data: seg,
        showSymbol: false,
        symbol: "none",
        smooth: 0.15,
        smoothMonotone: "x",
        lineStyle: { color: LINE_COLOR, width: 2.75 },
        emphasis: { disabled: true },
        silent: true,
      });
    });

    // Country code in the cell beneath the chart
    const col = i % 5;
    const row = Math.floor(i / 5);
    const cx = (COL_X[col] + (col < 4 ? COL_X[col + 1] : 1290)) / 2;
    graphic.push({
      type: "text",
      silent: true,
      style: {
        text: code,
        x: cx,
        y: LABEL_Y[row],
        align: "center",
        verticalAlign: "middle",
        font: '31px "Liberation Serif", "Times New Roman", serif',
        fill: "#000",
      },
    });
  });

  // Table rules
  const black = { stroke: "#000", lineWidth: 2 };
  ROW_Y.forEach((y, k) => {
    const full = k <= 14;
    graphic.push({
      type: "line",
      silent: true,
      shape: { x1: 8, y1: y, x2: full ? 1290 : 521, y2: y },
      style: black,
    });
  });
  COL_X.forEach((x, k) => {
    graphic.push({
      type: "line",
      silent: true,
      shape: { x1: x, y1: 6, x2: x, y2: k <= 2 ? 1289 : 1122 },
      style: black,
    });
  });

  return {
    animation: false,
    backgroundColor: "#ffffff",
    grid,
    xAxis,
    yAxis,
    series,
    graphic: { elements: graphic },
  };
}

export default function App() {
  const ref = useRef<HTMLDivElement>(null);
  useEffect(() => {
    if (!ref.current) return;
    const chart = echarts.init(ref.current, undefined, { renderer: "svg" });
    chart.setOption(buildOption() as any);
    return () => chart.dispose();
  }, []);
  return (
    <div
      ref={ref}
      style={{ position: "absolute", left: 0, top: 0, width: 1290, height: 1289, background: "#fff" }}
    />
  );
}
